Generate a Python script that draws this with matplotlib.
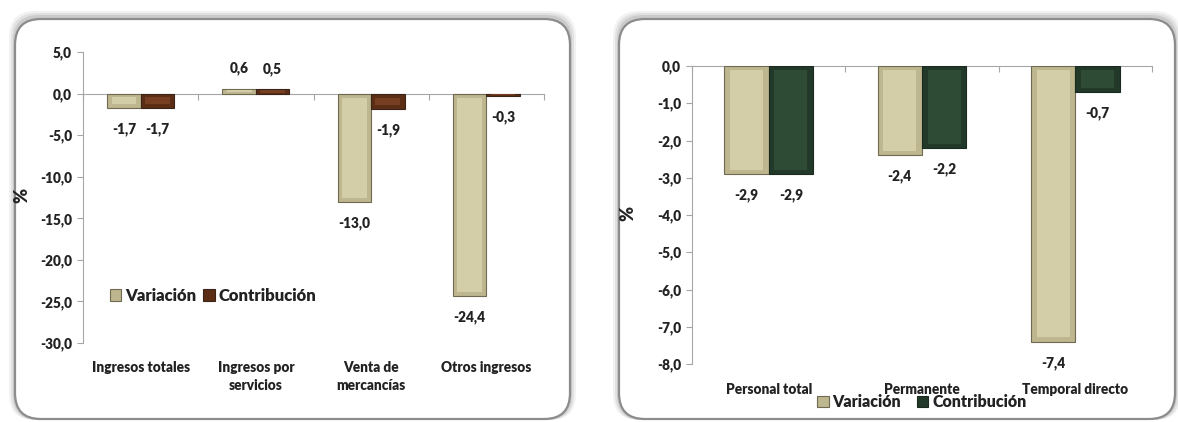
import matplotlib
matplotlib.use("Agg")
import matplotlib.pyplot as plt
import numpy as np
from matplotlib.patches import FancyBboxPatch
from matplotlib.ticker import FixedLocator

plt.rcParams['font.family'] = ['Lato', 'DejaVu Sans']
plt.rcParams['font.weight'] = 'heavy'

# left panel: ingresos
ing_cats = ["Ingresos totales", "Ingresos por\nservicios", "Venta de\nmercancías", "Otros ingresos"]
ing_var = [-1.7, 0.6, -13.0, -24.4]
ing_con = [-1.7, 0.5, -1.9, -0.3]
ing_ticks = [5, 0, -5, -10, -15, -20, -25, -30]

# right panel: personal ocupado
per_cats = ["Personal total", "Permanente", "Temporal directo"]
per_var = [-2.9, -2.4, -7.4]
per_con = [-2.9, -2.2, -0.7]
per_ticks = [0, -1, -2, -3, -4, -5, -6, -7, -8]

# (outer, inner face, outline) for the bevelled bars
c_var = ('#BDB68E', '#D4CEA8', '#6E6A52')
c_brown = ('#5C2D15', '#763F21', '#3a2418')
c_green = ('#22392A', '#2E4B36', '#1a2a1e')
grey = '#A6A6A6'
txt = '#222222'

fig = plt.figure(figsize=(11.78, 4.22), dpi=100)
W, H = 1178, 422


def comma(v):
    return f"{v:.1f}".replace('.', ',')


# panel frames with a soft shadow
def frame(x0, y0, x1, y1):
    for i, a in enumerate([0.05, 0.07, 0.09]):
        off = 6 - 2 * i
        sh = FancyBboxPatch(((x0 - off) / W, 1 - (y1 + 1) / H), (x1 - x0 + 2 * off) / W,
                            (y1 - y0 + off + 3) / H,
                            boxstyle="round,pad=0,rounding_size=0.022",
                            transform=fig.transFigure, fc='black', ec='none',
                            alpha=a, zorder=-3, mutation_aspect=W / H)
        fig.patches.append(sh)
    box = FancyBboxPatch((x0 / W, 1 - y1 / H), (x1 - x0) / W, (y1 - y0) / H,
                         boxstyle="round,pad=0,rounding_size=0.022",
                         transform=fig.transFigure, fc='white', ec='#8C8C8C',
                         lw=1.6, zorder=-2, mutation_aspect=W / H)
    fig.patches.append(box)


frame(15, 19, 570, 419)
frame(619, 19, 1175, 419)


def bevel_bars(ax, xs, vals, w, cols, label, span):
    outer, inner, line = cols
    ax.bar(xs, vals, w, color=outer, edgecolor=line, lw=0.8, label=label, zorder=3)
    vals = np.asarray(vals)
    inset = np.minimum(np.abs(vals) * 0.25, span * 0.014) * np.sign(vals)
    ax.bar(xs, vals - 2 * inset, w * 0.74, bottom=inset, color=inner,
           edgecolor='none', zorder=4)


def panel(rect, cats, var, con, ticks, ccols, ylab_xy, pad):
    ax = fig.add_axes(rect)
    ax.set_facecolor('none')
    x = np.arange(len(cats))
    w = 0.29
    span = max(ticks) - min(ticks)
    bevel_bars(ax, x - w / 2, var, w, c_var, 'Variación', span)
    bevel_bars(ax, x + w / 2, con, w, ccols, 'Contribución', span)
    for xs, vals in ((x - w / 2, var), (x + w / 2, con)):
        for xi, v in zip(xs, vals):
            off = 20 if v > 0 else -21
            ax.annotate(comma(v), (xi, v), xytext=(0, off),
                        textcoords='offset pixels', ha='center', va='center',
                        fontsize=9.8, fontweight='heavy', color=txt)
    ax.set_xlim(-0.5, len(cats) - 0.5)
    ax.set_ylim(min(ticks), max(ticks))
    ax.set_yticks(ticks, [comma(t) for t in ticks])
    ax.tick_params(axis='y', length=4, color=grey, pad=4, labelsize=9.8,
                   labelcolor=txt)
    ax.set_xticks(x, cats, linespacing=1.45)
    ax.tick_params(axis='x', length=0, pad=pad, labelsize=9.8, labelcolor=txt)
    for lbl in ax.get_yticklabels() + ax.get_xticklabels():
        lbl.set_fontweight('heavy')
    for s in ('top', 'right', 'bottom'):
        ax.spines[s].set_visible(False)
    ax.spines['left'].set_color(grey)
    # category axis drawn at zero
    sec = ax.secondary_xaxis(0, transform=ax.transData)
    sec.xaxis.set_major_locator(FixedLocator(np.arange(len(cats) + 1) - 0.5))
    sec.tick_params(length=4, color=grey, labelbottom=False, direction='out')
    sec.spines['bottom'].set_color(grey)
    sec.set_zorder(-1)
    ax.set_ylabel('%', fontsize=13, fontweight='heavy', color=txt)
    ax.yaxis.set_label_coords(*ylab_xy)
    return ax


axL = panel([83 / W, 1 - 343 / H, 461 / W, 291 / H], ing_cats, ing_var, ing_con,
            ing_ticks, c_brown, (-0.115, 0.508), 13)
axR = panel([692 / W, 1 - 364 / H, 460 / W, 298 / H], per_cats, per_var, per_con,
            per_ticks, c_green, (-0.12, 0.506), 14)

legkw = dict(frameon=False, handlelength=0.7, handleheight=0.7, handletextpad=0.25,
             labelcolor=txt)
hL, lL = axL.get_legend_handles_labels()
axL.legend(hL, lL, loc='center left', bbox_to_anchor=(0.025, 0.163), ncol=2,
           columnspacing=0.4, prop={'size': 12, 'weight': 'heavy'}, **legkw)
hR, lR = axR.get_legend_handles_labels()
axR.legend(hR, lR, loc='center', bbox_to_anchor=(922 / W, 1 - 402 / H),
           bbox_transform=fig.transFigure, ncol=2, columnspacing=1.0,
           prop={'size': 11.5, 'weight': 'heavy'}, **legkw)

fig.savefig('out.png', dpi=100)
